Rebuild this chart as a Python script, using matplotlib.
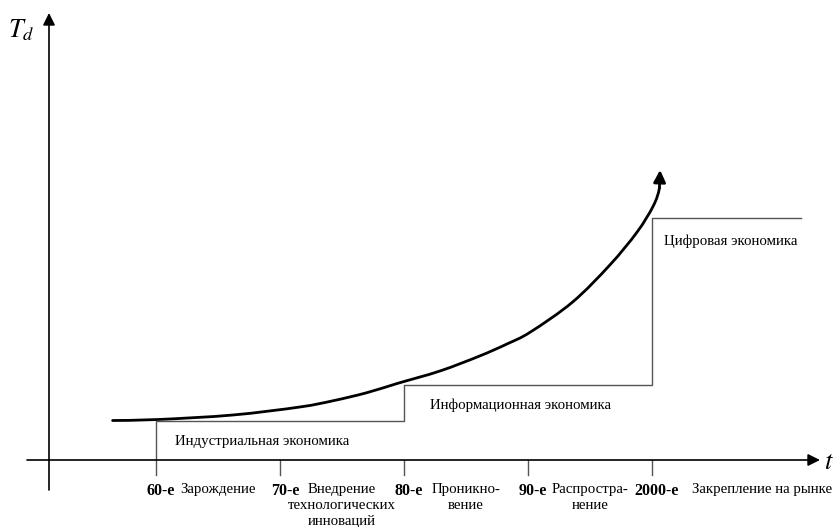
import matplotlib
matplotlib.use("Agg")
import matplotlib.pyplot as plt
from matplotlib.path import Path
from matplotlib.patches import PathPatch

# ---- data ----
decade_years = [1960, 1970, 1980, 1990, 2000]
decade_labels = ["60-е", "70-е", "80-е", "90-е", "2000-е"]
stage_labels = ["Зарождение", "Внедрение\nтехнологических\nинноваций",
                "Проникно-\nвение", "Распростра-\nнение", "Закрепление на рынке"]
economy_labels = ["Индустриальная экономика", "Информационная экономика", "Цифровая экономика"]
economy_start = [1960, 1980, 2000]
economy_level = [39, 75, 242]
economy_end = 2012
curve_years = [1956.5, 1960.2, 1966.2, 1971.6, 1974.3, 1977.0, 1979.5, 1982.9,
               1986.1, 1988.3, 1990.2, 1993.6, 1996.6, 1998.8, 2000.1, 2000.6]
curve_values = [39.5, 40.5, 45, 53, 59.3, 67.3, 76.7, 89,
                104, 116, 128, 158, 195, 228, 254, 272]
curve_tip = (2000.65, 290)

# ---- layout helpers (pixel -> data) ----
PX0, SCALE = 156.0, 12.4
def X(px):
    return 1960 + (px - PX0) / SCALE
def Y(py):
    return 460 - py

fig = plt.figure(figsize=(8.33, 5.27), dpi=100)
ax = fig.add_axes([0, 0, 1, 1])
ax.set_xlim(X(0), X(833))
ax.set_ylim(Y(527), Y(0))
ax.axis("off")

serif = ["Liberation Serif", "DejaVu Serif"]
plt.rcParams["mathtext.fontset"] = "stix"
FS = 10.7

# axes with arrows
ax.annotate("", xy=(X(820), 0), xytext=(X(27), 0),
            arrowprops=dict(arrowstyle="-|>", color="black", lw=1.2, mutation_scale=18,
                            shrinkA=0, shrinkB=0))
ax.annotate("", xy=(X(49), Y(13)), xytext=(X(49), Y(490)),
            arrowprops=dict(arrowstyle="-|>", color="black", lw=1.2, mutation_scale=18,
                            shrinkA=0, shrinkB=0))
ax.text(X(8), Y(30), r"$T_d$", fontsize=19, ha="left", va="center")
ax.text(X(824), Y(462), r"$t$", fontsize=19, ha="left", va="center")

# ticks
tick_len = 15
gray = "#555555"
for yr in decade_years[1:]:
    ax.plot([yr, yr], [0, -tick_len], color=gray, lw=1.0)

# economy steps
step_x = [economy_start[0]]
step_y = [-tick_len]
for i, (xs, lv) in enumerate(zip(economy_start, economy_level)):
    step_x += [xs, (economy_start[i + 1] if i + 1 < len(economy_start) else economy_end)]
    step_y += [lv, lv]
    if i + 1 < len(economy_start):
        step_x.append(economy_start[i + 1])
        step_y.append(lv)
ax.plot(step_x, step_y, color=gray, lw=1.0)

econ_pos = [(X(262), Y(441)), (X(520), Y(405)), (X(731), Y(241))]
for lab, (tx, ty) in zip(economy_labels, econ_pos):
    ax.text(tx, ty, lab, family=serif, fontsize=FS, ha="center", va="center")

# smooth curve through the read points (Catmull-Rom rendered as cubic Bezier path)
pts = list(zip(curve_years, curve_values))
verts = [pts[0]]
codes = [Path.MOVETO]
n = len(pts)
for i in range(n - 1):
    p0 = pts[i - 1] if i > 0 else pts[i]
    p1 = pts[i]
    p2 = pts[i + 1]
    p3 = pts[i + 2] if i + 2 < n else curve_tip
    c1 = (p1[0] + (p2[0] - p0[0]) / 6, p1[1] + (p2[1] - p0[1]) / 6)
    c2 = (p2[0] - (p3[0] - p1[0]) / 6, p2[1] - (p3[1] - p1[1]) / 6)
    verts += [c1, c2, p2]
    codes += [Path.CURVE4] * 3
ax.add_patch(PathPatch(Path(verts, codes), fill=False, edgecolor="black", lw=2.0,
                       capstyle="round"))
ax.annotate("", xy=curve_tip, xytext=(curve_years[-1], curve_values[-1]),
            arrowprops=dict(arrowstyle="-|>", color="black", lw=2.0, mutation_scale=18,
                            shrinkA=0, shrinkB=0))

# bottom labels
for yr, lab in zip(decade_years, decade_labels):
    ax.text(yr + 0.4, Y(491), lab, family=serif, fontsize=11.5, fontweight="bold",
            ha="center", va="center")
for i, lab in enumerate(stage_labels):
    if i < len(stage_labels) - 1:
        ax.text(decade_years[i] + 5, Y(483), lab, family=serif, fontsize=FS,
                ha="center", va="top", linespacing=1.3)
    else:
        ax.text(X(692), Y(483), lab, family=serif, fontsize=FS, ha="left", va="top")

fig.savefig("out.png", dpi=100)
